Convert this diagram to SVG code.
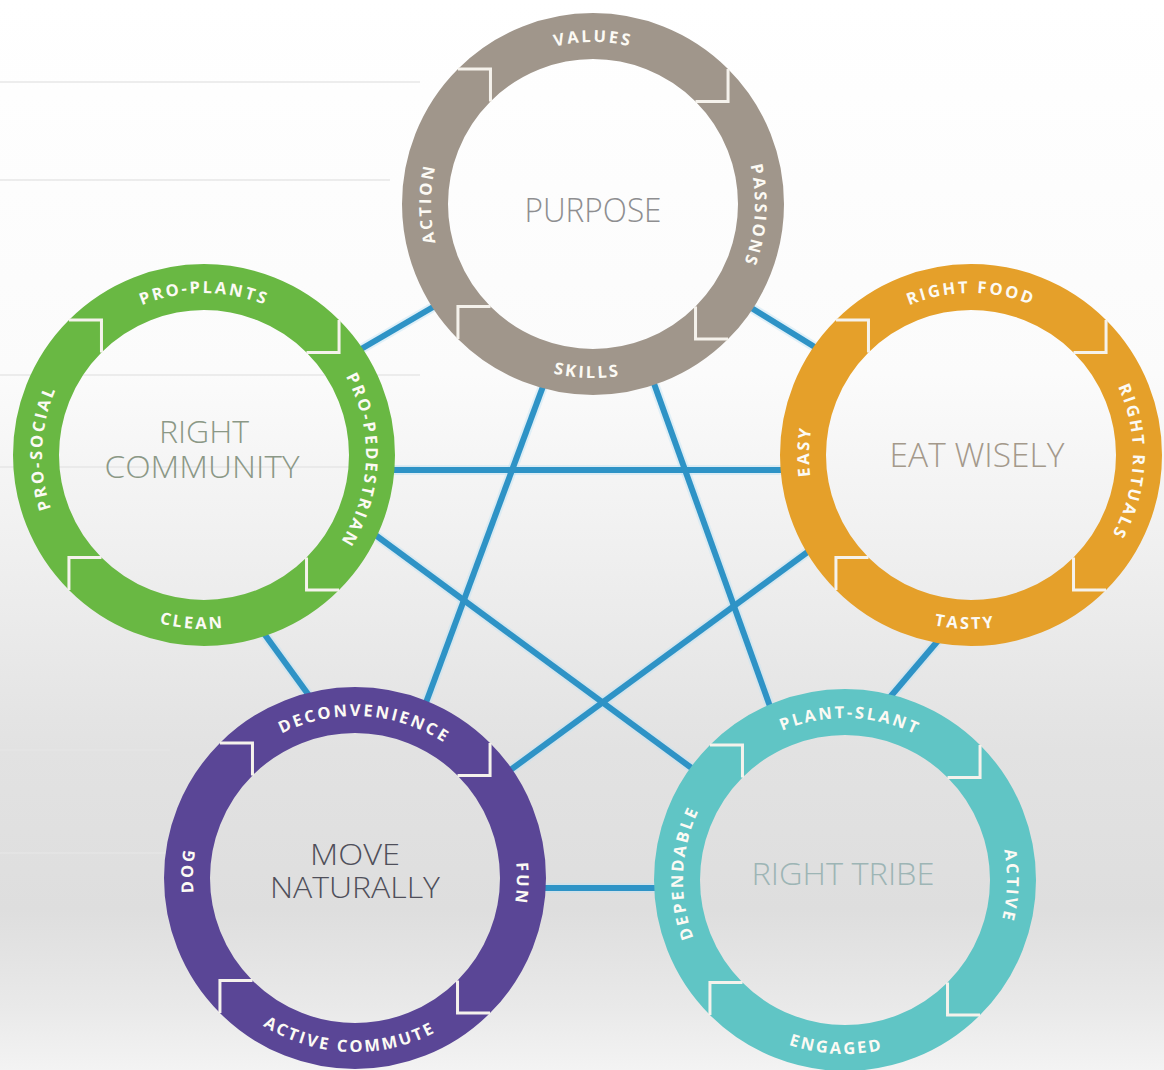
<svg xmlns="http://www.w3.org/2000/svg" width="1164" height="1070" viewBox="0 0 1164 1070">
  <style>
    .ring { fill: none; stroke-width: 46; }
    .notch { fill: none; stroke: #f5f2ec; stroke-width: 3; stroke-linejoin: miter; }
    .lbl { font-family: "Open Sans", "Liberation Sans", sans-serif; font-weight: 700; font-size: 16.5px; letter-spacing: 2.5px; fill: #fcfaf4; }
    .title { font-family: "Open Sans", "Liberation Sans", sans-serif; font-weight: 300; text-anchor: middle; }
    .link { stroke: #2e93c6; stroke-width: 6; stroke-linecap: butt; fill: none; }
    .glow { stroke: #bfe3f3; stroke-width: 10; stroke-opacity: 0.45; fill: none; }
    .rule { stroke: #e6e6e6; stroke-width: 2; }
  </style>
  <defs>
    <linearGradient id="bg" x1="0" y1="0" x2="0" y2="1">
      <stop offset="0" stop-color="#ffffff"/>
      <stop offset="0.35" stop-color="#fbfbfb"/>
      <stop offset="0.55" stop-color="#ededed"/>
      <stop offset="0.7" stop-color="#e2e2e2"/>
      <stop offset="0.85" stop-color="#dedede"/>
      <stop offset="0.94" stop-color="#e9e9e9"/>
      <stop offset="1" stop-color="#f3f3f3"/>
    </linearGradient>
    <!-- label baselines around a ring centred on the origin -->
    <path id="pTop" d="M0,162 A162,162 0 1,1 0,-162 A162,162 0 1,1 0,162"/>
    <path id="pRight" d="M-162,0 A162,162 0 1,1 162,0 A162,162 0 1,1 -162,0"/>
    <path id="pLeft" d="M162,0 A162,162 0 1,1 -162,0 A162,162 0 1,1 162,0"/>
    <path id="pBottom" d="M0,-174 A174,174 0 1,0 0,174 A174,174 0 1,0 0,-174"/>
    <!-- square arrow tips between the four ring segments -->
    <g id="notches">
      <polyline class="notch" points="191,0 168,23 145,0" transform="rotate(-135)"/>
      <polyline class="notch" points="191,0 168,23 145,0" transform="rotate(-45)"/>
      <polyline class="notch" points="191,0 168,23 145,0" transform="rotate(45)"/>
      <polyline class="notch" points="191,0 168,23 145,0" transform="rotate(135)"/>
    </g>
  </defs>

  <!-- backdrop -->
  <rect width="1164" height="1070" fill="url(#bg)"/>
  <g opacity="0.7">
    <line class="rule" x1="0" y1="82" x2="420" y2="82"/>
    <line class="rule" x1="0" y1="180" x2="390" y2="180"/>
    <line class="rule" x1="0" y1="375" x2="420" y2="375"/>
    <line class="rule" x1="0" y1="467" x2="420" y2="467"/>
    <line class="rule" x1="0" y1="750" x2="170" y2="750"/>
    <line class="rule" x1="0" y1="853" x2="170" y2="853"/>
  </g>

  <!-- connectors -->
  <g id="connectors">
    <g>
      <line class="glow" x1="356" y1="352" x2="440" y2="303"/>
      <line class="glow" x1="745" y1="304" x2="818" y2="349"/>
      <line class="glow" x1="385" y1="470" x2="790" y2="470"/>
      <line class="glow" x1="260" y1="628" x2="313" y2="701"/>
      <line class="glow" x1="942" y1="636" x2="885" y2="703"/>
      <line class="glow" x1="535" y1="888" x2="665" y2="888"/>
      <line class="glow" x1="545" y1="381" x2="424" y2="708"/>
      <line class="glow" x1="652" y1="378" x2="772" y2="712"/>
      <line class="glow" x1="370" y1="531" x2="697" y2="772"/>
      <line class="glow" x1="813" y1="548" x2="505" y2="774"/>
    </g>
    <line class="link" x1="356" y1="352" x2="440" y2="303"/>
    <line class="link" x1="745" y1="304" x2="818" y2="349"/>
    <line class="link" x1="385" y1="470" x2="790" y2="470"/>
    <line class="link" x1="260" y1="628" x2="313" y2="701"/>
    <line class="link" x1="942" y1="636" x2="885" y2="703"/>
    <line class="link" x1="535" y1="888" x2="665" y2="888"/>
    <line class="link" x1="545" y1="381" x2="424" y2="708"/>
    <line class="link" x1="652" y1="378" x2="772" y2="712"/>
    <line class="link" x1="370" y1="531" x2="697" y2="772"/>
    <line class="link" x1="813" y1="548" x2="505" y2="774"/>
  </g>

  <!-- Purpose -->
  <g id="purpose" transform="translate(593,204)">
    <circle class="ring" r="168" stroke="#a0968b"/>
    <use href="#notches"/>
    <text class="lbl"><textPath href="#pTop" startOffset="50%" text-anchor="middle">VALUES</textPath></text>
    <text class="lbl" transform="rotate(4)"><textPath href="#pRight" startOffset="50%" text-anchor="middle">PASSIONS</textPath></text>
    <text class="lbl" transform="rotate(2)"><textPath href="#pBottom" startOffset="50%" text-anchor="middle">SKILLS</textPath></text>
    <text class="lbl"><textPath href="#pLeft" startOffset="50%" text-anchor="middle">ACTION</textPath></text>
    <text class="title" x="0" y="18" font-size="33" fill="#8e8e90" textLength="137" lengthAdjust="spacingAndGlyphs">PURPOSE</text>
  </g>

  <!-- Right Community -->
  <g id="right-community" transform="translate(204,455)">
    <circle class="ring" r="168" stroke="#69b843"/>
    <use href="#notches"/>
    <text class="lbl"><textPath href="#pTop" startOffset="50%" text-anchor="middle">PRO-PLANTS</textPath></text>
    <text class="lbl" transform="rotate(2)"><textPath href="#pRight" startOffset="50%" text-anchor="middle">PRO-PEDESTRIAN</textPath></text>
    <text class="lbl" transform="rotate(4)"><textPath href="#pBottom" startOffset="50%" text-anchor="middle">CLEAN</textPath></text>
    <text class="lbl" transform="rotate(2.5)"><textPath href="#pLeft" startOffset="50%" text-anchor="middle">PRO-SOCIAL</textPath></text>
    <text class="title" x="0" y="-12" font-size="31" fill="#8b9886" textLength="90" lengthAdjust="spacingAndGlyphs">RIGHT</text>
    <text class="title" x="-2" y="23" font-size="31" fill="#8b9886" textLength="195" lengthAdjust="spacingAndGlyphs">COMMUNITY</text>
  </g>

  <!-- Eat Wisely -->
  <g id="eat-wisely" transform="translate(971,455)">
    <circle class="ring" r="168" stroke="#e5a02a"/>
    <use href="#notches"/>
    <text class="lbl"><textPath href="#pTop" startOffset="50%" text-anchor="middle">RIGHT FOOD</textPath></text>
    <text class="lbl" transform="rotate(2.5)"><textPath href="#pRight" startOffset="50%" text-anchor="middle">RIGHT RITUALS</textPath></text>
    <text class="lbl" transform="rotate(2)"><textPath href="#pBottom" startOffset="50%" text-anchor="middle">TASTY</textPath></text>
    <text class="lbl" transform="rotate(1.2)"><textPath href="#pLeft" startOffset="50%" text-anchor="middle">EASY</textPath></text>
    <text class="title" x="6" y="12" font-size="33" fill="#a4998b" textLength="175" lengthAdjust="spacingAndGlyphs">EAT WISELY</text>
  </g>

  <!-- Move Naturally -->
  <g id="move-naturally" transform="translate(355,878)">
    <circle class="ring" r="168" stroke="#5a4696"/>
    <use href="#notches"/>
    <text class="lbl" transform="rotate(3.5)"><textPath href="#pTop" startOffset="50%" text-anchor="middle">DECONVENIENCE</textPath></text>
    <text class="lbl" transform="rotate(2)"><textPath href="#pRight" startOffset="50%" text-anchor="middle">FUN</textPath></text>
    <text class="lbl" transform="rotate(2)"><textPath href="#pBottom" startOffset="50%" text-anchor="middle">ACTIVE COMMUTE</textPath></text>
    <text class="lbl" transform="rotate(2.6)"><textPath href="#pLeft" startOffset="50%" text-anchor="middle">DOG</textPath></text>
    <text class="title" x="0" y="-13" font-size="29" fill="#4f4f5a" textLength="90" lengthAdjust="spacingAndGlyphs">MOVE</text>
    <text class="title" x="0" y="20" font-size="29" fill="#4f4f5a" textLength="170" lengthAdjust="spacingAndGlyphs">NATURALLY</text>
  </g>

  <!-- Right Tribe -->
  <g id="right-tribe" transform="translate(845,880)">
    <circle class="ring" r="168" stroke="#60c5c5"/>
    <use href="#notches"/>
    <text class="lbl" transform="rotate(1.8)"><textPath href="#pTop" startOffset="50%" text-anchor="middle">PLANT-SLANT</textPath></text>
    <text class="lbl" transform="rotate(2)"><textPath href="#pRight" startOffset="50%" text-anchor="middle">ACTIVE</textPath></text>
    <text class="lbl" transform="rotate(3)"><textPath href="#pBottom" startOffset="50%" text-anchor="middle">ENGAGED</textPath></text>
    <text class="lbl" transform="rotate(2.5)"><textPath href="#pLeft" startOffset="50%" text-anchor="middle">DEPENDABLE</textPath></text>
    <text class="title" x="-2" y="5" font-size="31" fill="#9db5b5" textLength="183" lengthAdjust="spacingAndGlyphs">RIGHT TRIBE</text>
  </g>
</svg>
